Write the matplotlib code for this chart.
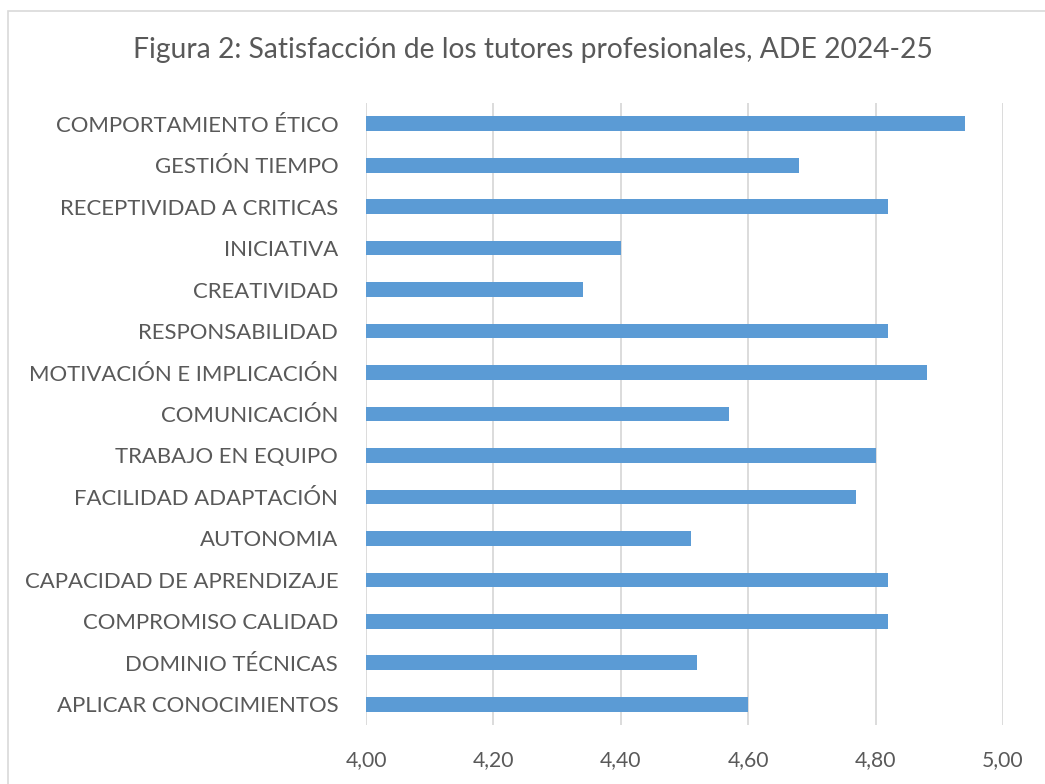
import matplotlib
matplotlib.use("Agg")
import matplotlib.pyplot as plt
from matplotlib.patches import Rectangle

categories = [
    "APLICAR CONOCIMIENTOS",
    "DOMINIO TÉCNICAS",
    "COMPROMISO CALIDAD",
    "CAPACIDAD DE APRENDIZAJE",
    "AUTONOMIA",
    "FACILIDAD ADAPTACIÓN",
    "TRABAJO EN EQUIPO",
    "COMUNICACIÓN",
    "MOTIVACIÓN E IMPLICACIÓN",
    "RESPONSABILIDAD",
    "CREATIVIDAD",
    "INICIATIVA",
    "RECEPTIVIDAD A CRITICAS",
    "GESTIÓN TIEMPO",
    "COMPORTAMIENTO ÉTICO",
]
values = [4.60, 4.52, 4.82, 4.82, 4.51, 4.77, 4.80, 4.57, 4.88, 4.82, 4.34, 4.40, 4.82, 4.68, 4.94]
xticks = [4.00, 4.20, 4.40, 4.60, 4.80, 5.00]
xticklabels = ["4,00", "4,20", "4,40", "4,60", "4,80", "5,00"]
title = "Figura 2: Satisfacción de los tutores profesionales, ADE 2024-25"

plt.rcParams['font.family'] = ['Lato', 'DejaVu Sans']
text_color = "#595959"
bar_color = "#5B9BD5"
grid_color = "#D9D9D9"

fig = plt.figure(figsize=(10.45, 7.84), dpi=100)
fig.patches.append(Rectangle((8/1045, -0.05), 1.2, 0.05 + (1 - 11/784),
                             transform=fig.transFigure, fill=False,
                             edgecolor=grid_color, linewidth=1.2))
ax = fig.add_axes([366/1045, 59/784, 637/1045, 622/784])

base = 4.0
ax.barh(range(len(categories)), [v - base for v in values], left=base,
        height=0.355, color=bar_color, zorder=3)

ax.set_xlim(4.0, 5.0)
ax.set_ylim(-0.5, len(categories) - 0.5)
ax.set_xticks(xticks)
ax.set_xticklabels(xticklabels)
ax.set_yticks(range(len(categories)))
ax.set_yticklabels(categories)
ax.tick_params(axis='both', length=0, colors=text_color)
ax.tick_params(axis='y', labelsize=15.9, pad=20)
ax.tick_params(axis='x', labelsize=15.2, pad=18)
for s in ax.spines.values():
    s.set_visible(False)
ax.grid(axis='x', color=grid_color, linewidth=1.3, zorder=0)
ax.set_axisbelow(True)

fig.text(533/1045, 1 - 50/784, title, ha='center', va='center',
         fontsize=20.3, color=text_color)

fig.savefig("out.png", dpi=100)
